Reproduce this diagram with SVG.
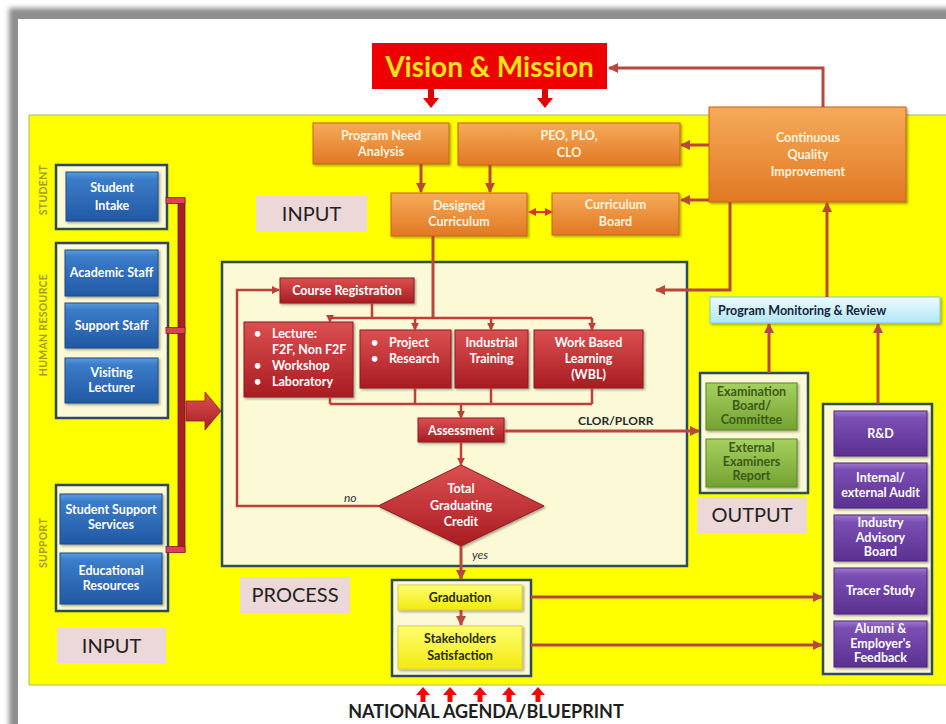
<svg xmlns="http://www.w3.org/2000/svg" width="946" height="724" viewBox="0 0 946 724">
  <defs>
    <style>
      .t { font-family: Lato, "Open Sans", "Liberation Sans", sans-serif; font-weight: bold; font-size: 12.5px; text-anchor: middle; }
      .tl { font-family: Lato, "Open Sans", "Liberation Sans", sans-serif; font-weight: bold; font-size: 12.5px; }
      .w { fill: #ffffff; }
      .wo { fill: #fff3df; }
      .dk { fill: #2a2a10; }
      .gr { fill: #3b5a18; }
      .lab { font-family: Lato, "Open Sans", "Liberation Sans", sans-serif; font-size: 20px; fill: #222; text-anchor: middle; }
      .side { font-family: Lato, "Open Sans", "Liberation Sans", sans-serif; font-weight: bold; font-size: 10.5px; fill: #a39c2c; text-anchor: middle; letter-spacing: 0.3px; }
      .pink { fill: #ecd8d8; }
      .panel { fill: #fbf9d6; stroke: #2f4a58; stroke-width: 2.5; }
      .orange { fill: url(#gOrange); stroke: #c4651c; stroke-width: 1; filter: url(#sh); }
      .red { fill: url(#gRed); stroke: #8c1a1e; stroke-width: 1; filter: url(#sh); }
      .blue { fill: url(#gBlue); stroke: #1d4c86; stroke-width: 1; filter: url(#sh); }
      .purple { fill: url(#gPurple); stroke: #4c2780; stroke-width: 1; filter: url(#sh); }
      .green { fill: url(#gGreen); stroke: #5b8526; stroke-width: 1; filter: url(#sh); }
      .yel { fill: url(#gYel); stroke: #d8cf40; stroke-width: 1; filter: url(#sh); }
      .cyan { fill: url(#gCyan); stroke: #7fc8dc; stroke-width: 1; filter: url(#sh); }
      .ln { fill: none; stroke: #b9473c; stroke-width: 3; }
      .ln2 { fill: none; stroke: #c43c36; stroke-width: 2.5; }
      .arr { marker-end: url(#ah); }
      .arr2 { marker-end: url(#ah2); }
    </style>
    <linearGradient id="gOrange" x1="0" y1="0" x2="0" y2="1">
      <stop offset="0" stop-color="#f6ab5a"/>
      <stop offset="1" stop-color="#e17823"/>
    </linearGradient>
    <linearGradient id="gRed" x1="0" y1="0" x2="0" y2="1">
      <stop offset="0" stop-color="#dc4f50"/>
      <stop offset="1" stop-color="#a81c22"/>
    </linearGradient>
    <linearGradient id="gBlue" x1="0" y1="0" x2="0" y2="1">
      <stop offset="0" stop-color="#5b9de0"/>
      <stop offset="0.15" stop-color="#3b7cc8"/>
      <stop offset="1" stop-color="#2258a4"/>
    </linearGradient>
    <linearGradient id="gPurple" x1="0" y1="0" x2="0" y2="1">
      <stop offset="0" stop-color="#a07ad0"/>
      <stop offset="0.15" stop-color="#7b4fb4"/>
      <stop offset="1" stop-color="#5a3090"/>
    </linearGradient>
    <linearGradient id="gGreen" x1="0" y1="0" x2="0" y2="1">
      <stop offset="0" stop-color="#a6d160"/>
      <stop offset="1" stop-color="#74a232"/>
    </linearGradient>
    <linearGradient id="gYel" x1="0" y1="0" x2="0" y2="1">
      <stop offset="0" stop-color="#ffff70"/>
      <stop offset="1" stop-color="#f2ea10"/>
    </linearGradient>
    <linearGradient id="gCyan" x1="0" y1="0" x2="0" y2="1">
      <stop offset="0" stop-color="#eefcff"/>
      <stop offset="1" stop-color="#b2e6f4"/>
    </linearGradient>
    <linearGradient id="gBig" x1="0" y1="0" x2="0" y2="1">
      <stop offset="0" stop-color="#e05050"/>
      <stop offset="1" stop-color="#a52026"/>
    </linearGradient>
    <filter id="sh" x="-10%" y="-10%" width="125%" height="130%">
      <feDropShadow dx="1.5" dy="1.5" stdDeviation="1" flood-color="#000" flood-opacity="0.35"/>
    </filter>
    <filter id="blur" x="-5%" y="-5%" width="110%" height="110%">
      <feGaussianBlur stdDeviation="2.5"/>
    </filter>
    <marker id="ah" viewBox="0 0 10 10" refX="9" refY="5" markerWidth="10" markerHeight="10" markerUnits="userSpaceOnUse" orient="auto">
      <path d="M0,0 L10,5 L0,10 z" fill="#b9473c"/>
    </marker>
    <marker id="ah2" viewBox="0 0 10 10" refX="9" refY="5" markerWidth="8" markerHeight="8" markerUnits="userSpaceOnUse" orient="auto">
      <path d="M0,0 L10,5 L0,10 z" fill="#c43c36"/>
    </marker>
    <marker id="ahs" viewBox="0 0 10 10" refX="5" refY="5" markerWidth="8" markerHeight="8" markerUnits="userSpaceOnUse" orient="auto-start-reverse">
      <path d="M0,0 L10,5 L0,10 z" fill="#e0302c"/>
    </marker>
  </defs>

  <!-- page and frame -->
  <rect x="0" y="0" width="946" height="724" fill="#ffffff"/>
  <rect x="9" y="8" width="960" height="740" fill="#8e8e8e" filter="url(#blur)"/>
  <rect x="18" y="19" width="940" height="720" fill="#ffffff"/>

  <!-- yellow field -->
  <rect x="29" y="115" width="930" height="570" fill="#ffff00" stroke="#a9b86c" stroke-width="1"/>

  <!-- section labels -->
  <g id="label-input-top">
    <rect class="pink" x="256" y="196" width="111" height="36"/>
    <text class="lab" x="311.5" y="221">INPUT</text>
  </g>
  <g id="label-input-bottom">
    <rect class="pink" x="57" y="628" width="109" height="35"/>
    <text class="lab" x="111.5" y="653">INPUT</text>
  </g>
  <g id="label-process">
    <rect class="pink" x="240" y="577" width="110" height="36"/>
    <text class="lab" x="295" y="602">PROCESS</text>
  </g>
  <g id="label-output">
    <rect class="pink" x="697" y="497" width="110" height="36"/>
    <text class="lab" x="752" y="522">OUTPUT</text>
  </g>

  <!-- side captions -->
  <text class="side" transform="translate(47,190) rotate(-90)">STUDENT</text>
  <text class="side" transform="translate(47,325) rotate(-90)">HUMAN RESOURCE</text>
  <text class="side" transform="translate(47,543) rotate(-90)">SUPPORT</text>

  <!-- Vision & Mission -->
  <g id="vision-mission">
    <rect x="372" y="43" width="235" height="46" fill="#ee0000"/>
    <text x="489.5" y="77" font-family="Lato, 'Open Sans', 'Liberation Sans', sans-serif" font-weight="bold" font-size="28" fill="#ffe21a" text-anchor="middle">Vision &amp; Mission</text>
  </g>

  <!-- planning row -->
  <g id="program-need-analysis">
    <rect class="orange" x="313" y="123" width="136" height="41"/>
    <text class="t wo" x="381" y="140">Program Need</text>
    <text class="t wo" x="381" y="156">Analysis</text>
  </g>
  <g id="peo-plo-clo">
    <rect class="orange" x="458" y="123" width="222" height="42"/>
    <text class="t wo" x="569" y="140">PEO, PLO,</text>
    <text class="t wo" x="569" y="157">CLO</text>
  </g>
  <g id="continuous-quality-improvement">
    <rect class="orange" x="709" y="107" width="197" height="95"/>
    <text class="t wo" x="808" y="142">Continuous</text>
    <text class="t wo" x="808" y="159">Quality</text>
    <text class="t wo" x="808" y="176">Improvement</text>
  </g>
  <g id="designed-curriculum">
    <rect class="orange" x="391" y="193" width="136" height="43"/>
    <text class="t wo" x="459" y="210">Designed</text>
    <text class="t wo" x="459" y="226">Curriculum</text>
  </g>
  <g id="curriculum-board">
    <rect class="orange" x="552" y="193" width="127" height="42"/>
    <text class="t wo" x="615.5" y="209">Curriculum</text>
    <text class="t wo" x="615.5" y="226">Board</text>
  </g>

  <!-- input column -->
  <g id="student-panel">
    <rect class="panel" x="56" y="165" width="111" height="64"/>
    <rect class="blue" x="66" y="172" width="92" height="49"/>
    <text class="t w" x="112" y="192">Student</text>
    <text class="t w" x="112" y="210">Intake</text>
  </g>
  <g id="human-resource-panel">
    <rect class="panel" x="56" y="243" width="112" height="175"/>
    <g id="academic-staff">
      <rect class="blue" x="65" y="250" width="93" height="46"/>
      <text class="t w" x="111.5" y="277">Academic Staff</text>
    </g>
    <g id="support-staff">
      <rect class="blue" x="65" y="303" width="93" height="45"/>
      <text class="t w" x="111.5" y="330">Support Staff</text>
    </g>
    <g id="visiting-lecturer">
      <rect class="blue" x="65" y="358" width="93" height="45"/>
      <text class="t w" x="111.5" y="377">Visiting</text>
      <text class="t w" x="111.5" y="392">Lecturer</text>
    </g>
  </g>
  <g id="support-panel">
    <rect class="panel" x="56" y="485" width="112" height="126"/>
    <g id="student-support-services">
      <rect class="blue" x="60" y="494" width="102" height="50"/>
      <text class="t w" x="111" y="514">Student Support</text>
      <text class="t w" x="111" y="529">Services</text>
    </g>
    <g id="educational-resources">
      <rect class="blue" x="60" y="553" width="102" height="51"/>
      <text class="t w" x="111" y="575">Educational</text>
      <text class="t w" x="111" y="590">Resources</text>
    </g>
  </g>

  <!-- input bus -->
  <g id="input-bus">
    <rect x="178" y="199" width="7" height="353" fill="#a51f24" stroke="#7c1518" stroke-width="0.8"/>
    <rect x="166" y="197.5" width="19" height="6" fill="#d8455a" stroke="#8c1a22" stroke-width="0.8"/>
    <rect x="166" y="327.5" width="19" height="6" fill="#d8455a" stroke="#8c1a22" stroke-width="0.8"/>
    <rect x="166" y="546.5" width="19" height="6" fill="#d8455a" stroke="#8c1a22" stroke-width="0.8"/>
    <polygon points="186,401 205,401 205,392 221,411 205,430 205,421 186,421" fill="url(#gBig)" stroke="#8c1a22" stroke-width="0.8"/>
  </g>

  <!-- process panel -->
  <g id="process-panel">
    <rect class="panel" x="222" y="262" width="465" height="304"/>
  </g>
  <g id="course-registration">
    <rect class="red" x="280" y="278" width="134" height="25"/>
    <text class="t w" x="347" y="295">Course Registration</text>
  </g>
  <g id="lecture">
    <rect class="red" x="244" y="322" width="109" height="75"/>
    <g class="tl w">
      <text x="254" y="338">•</text><text x="272" y="338">Lecture:</text>
      <text x="272" y="354">F2F, Non F2F</text>
      <text x="254" y="370">•</text><text x="272" y="370">Workshop</text>
      <text x="254" y="386">•</text><text x="272" y="386">Laboratory</text>
    </g>
  </g>
  <g id="project-research">
    <rect class="red" x="360" y="330" width="91" height="58"/>
    <g class="tl w">
      <text x="371" y="347">•</text><text x="389" y="347">Project</text>
      <text x="371" y="363">•</text><text x="389" y="363">Research</text>
    </g>
  </g>
  <g id="industrial-training">
    <rect class="red" x="455" y="330" width="73" height="58"/>
    <text class="t w" x="491.5" y="347">Industrial</text>
    <text class="t w" x="491.5" y="363">Training</text>
  </g>
  <g id="work-based-learning">
    <rect class="red" x="534" y="330" width="109" height="58"/>
    <text class="t w" x="588.5" y="347">Work Based</text>
    <text class="t w" x="588.5" y="363">Learning</text>
    <text class="t w" x="588.5" y="379">(WBL)</text>
  </g>
  <g id="assessment">
    <rect class="red" x="418" y="418" width="86" height="24"/>
    <text class="t w" x="461" y="434.5">Assessment</text>
  </g>
  <g id="total-graduating-credit">
    <polygon points="461,465 544,506 461,546 378,506" fill="url(#gRed)" stroke="#8c1a1e" stroke-width="1" filter="url(#sh)"/>
    <text class="t w" x="461" y="493">Total</text>
    <text class="t w" x="461" y="510">Graduating</text>
    <text class="t w" x="461" y="526">Credit</text>
  </g>

  <!-- graduation -->
  <g id="graduation-panel">
    <rect class="panel" x="392" y="580" width="139" height="96"/>
    <g id="graduation">
      <rect class="yel" x="398" y="585" width="124" height="25"/>
      <text class="t dk" x="460" y="602">Graduation</text>
    </g>
    <g id="stakeholders-satisfaction">
      <rect class="yel" x="398" y="626" width="124" height="43"/>
      <text class="t dk" x="460" y="643">Stakeholders</text>
      <text class="t dk" x="460" y="660">Satisfaction</text>
    </g>
  </g>

  <!-- output -->
  <g id="output-panel">
    <rect class="panel" x="700" y="373" width="108" height="120"/>
    <g id="examination-board">
      <rect class="green" x="706" y="383" width="91" height="47"/>
      <text class="t gr" x="751.5" y="396">Examination</text>
      <text class="t gr" x="751.5" y="410">Board/</text>
      <text class="t gr" x="751.5" y="424">Committee</text>
    </g>
    <g id="external-examiners-report">
      <rect class="green" x="706" y="439" width="91" height="48"/>
      <text class="t gr" x="751.5" y="452">External</text>
      <text class="t gr" x="751.5" y="466">Examiners</text>
      <text class="t gr" x="751.5" y="480">Report</text>
    </g>
  </g>

  <!-- monitoring -->
  <g id="program-monitoring-review">
    <rect class="cyan" x="710" y="297" width="230" height="26"/>
    <text class="tl" x="718" y="315" fill="#14243c" font-size="13">Program Monitoring &amp; Review</text>
  </g>

  <!-- review sources -->
  <g id="review-panel">
    <rect class="panel" x="823" y="404" width="109" height="270"/>
    <g id="r-and-d">
      <rect class="purple" x="834" y="411" width="93" height="45"/>
      <text class="t w" x="880.5" y="438">R&amp;D</text>
    </g>
    <g id="internal-external-audit">
      <rect class="purple" x="834" y="463" width="93" height="45"/>
      <text class="t w" x="880.5" y="482">Internal/</text>
      <text class="t w" x="880.5" y="497">external Audit</text>
    </g>
    <g id="industry-advisory-board">
      <rect class="purple" x="834" y="515" width="93" height="46"/>
      <text class="t w" x="880.5" y="527">Industry</text>
      <text class="t w" x="880.5" y="542">Advisory</text>
      <text class="t w" x="880.5" y="556">Board</text>
    </g>
    <g id="tracer-study">
      <rect class="purple" x="834" y="568" width="93" height="46"/>
      <text class="t w" x="880.5" y="595">Tracer Study</text>
    </g>
    <g id="alumni-employer-feedback">
      <rect class="purple" x="834" y="621" width="93" height="46"/>
      <text class="t w" x="880.5" y="633">Alumni &amp;</text>
      <text class="t w" x="880.5" y="648">Employer's</text>
      <text class="t w" x="880.5" y="662">Feedback</text>
    </g>
  </g>

  <!-- connectors -->
  <g id="connectors">
    <!-- vision & mission feeds -->
    <polygon points="428,89 434,89 434,98 439,98 431,108 423,98 428,98" fill="#e00000"/>
    <polygon points="542,89 548,89 548,98 553,98 545,108 537,98 542,98" fill="#e00000"/>
    <polyline class="ln arr" points="823,107 823,68 609,68"/>
    <line class="ln arr" x1="709" y1="145" x2="681" y2="145"/>
    <line class="ln arr" x1="709" y1="200" x2="681" y2="200"/>
    <line class="ln arr" x1="421" y1="164" x2="421" y2="192"/>
    <line class="ln arr" x1="490" y1="165" x2="490" y2="192"/>
    <line x1="532" y1="212" x2="549" y2="212" stroke="#e0302c" stroke-width="2" marker-start="url(#ahs)" marker-end="url(#ahs)"/>
    <!-- curriculum into delivery -->
    <line class="ln" x1="433" y1="236" x2="433" y2="318"/>
    <line class="ln2" x1="372" y1="303" x2="372" y2="318"/>
    <line class="ln2" x1="330" y1="318" x2="592" y2="318"/>
    <line class="ln2 arr2" x1="330" y1="318" x2="330" y2="322"/>
    <line class="ln2 arr2" x1="415" y1="318" x2="415" y2="330"/>
    <line class="ln2 arr2" x1="491" y1="318" x2="491" y2="330"/>
    <line class="ln2 arr2" x1="592" y1="318" x2="592" y2="330"/>
    <!-- delivery into assessment -->
    <line class="ln2" x1="330" y1="397" x2="330" y2="404"/>
    <line class="ln2" x1="415" y1="388" x2="415" y2="404"/>
    <line class="ln2" x1="491" y1="388" x2="491" y2="404"/>
    <line class="ln2" x1="592" y1="388" x2="592" y2="404"/>
    <line class="ln2" x1="330" y1="404" x2="592" y2="404"/>
    <line class="ln2 arr2" x1="461" y1="404" x2="461" y2="418"/>
    <line class="ln2 arr2" x1="461" y1="442" x2="461" y2="465"/>
    <line class="ln arr" x1="504" y1="431" x2="699" y2="431"/>
    <text x="578" y="425" font-family="Lato, 'Open Sans', 'Liberation Sans', sans-serif" font-weight="bold" font-size="12" fill="#2a2a2a">CLOR/PLORR</text>
    <!-- credit decision -->
    <polyline class="ln2 arr2" points="378,506 237,506 237,290 279,290"/>
    <text x="344" y="502" font-family="Lato, 'Open Sans', 'Liberation Sans', sans-serif" font-style="italic" font-size="12" fill="#333">no</text>
    <line class="ln arr" x1="461" y1="546" x2="461" y2="579"/>
    <text x="472" y="559" font-family="Lato, 'Open Sans', 'Liberation Sans', sans-serif" font-style="italic" font-size="12" fill="#333">yes</text>
    <line class="ln arr" x1="461" y1="610" x2="461" y2="625"/>
    <!-- outcomes to review -->
    <line class="ln arr" x1="531" y1="597" x2="822" y2="597"/>
    <line class="ln arr" x1="531" y1="645" x2="822" y2="645"/>
    <line class="ln arr" x1="769" y1="373" x2="769" y2="324"/>
    <line class="ln arr" x1="878" y1="404" x2="878" y2="324"/>
    <line class="ln arr" x1="827" y1="297" x2="827" y2="203"/>
    <polyline class="ln arr" points="730,202 730,290 656,290"/>
    <!-- national agenda -->
    <g fill="#ff0000">
      <polygon points="420.5,702 425.5,702 425.5,695 430,695 423,687 416,695 420.5,695"/>
      <polygon points="447.5,702 452.5,702 452.5,695 457,695 450,687 443,695 447.5,695"/>
      <polygon points="477.5,702 482.5,702 482.5,695 487,695 480,687 473,695 477.5,695"/>
      <polygon points="506.5,702 511.5,702 511.5,695 516,695 509,687 502,695 506.5,695"/>
      <polygon points="535.5,702 540.5,702 540.5,695 545,695 538,687 531,695 535.5,695"/>
    </g>
  </g>
  <text x="486" y="718" font-family="Lato, 'Open Sans', 'Liberation Sans', sans-serif" font-weight="bold" font-size="18" fill="#1e1e1e" text-anchor="middle">NATIONAL AGENDA/BLUEPRINT</text>
</svg>
